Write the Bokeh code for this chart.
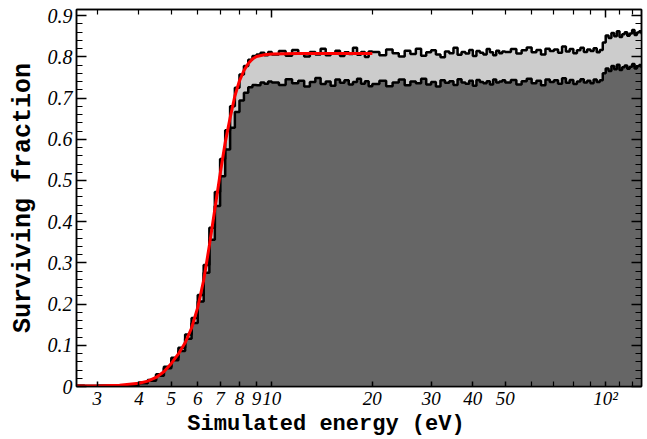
from bokeh.plotting import figure
from bokeh.models import Range1d, FixedTicker, LogAxis, LinearAxis
from bokeh.embed import file_html
from bokeh.resources import INLINE
import numpy as np

# ---------------- data ----------------
# bin edges (eV): 0.25 eV bins to 10, 0.5 eV to 20, 1 eV to 50, 2 eV to 130
edges_a = list(np.arange(2.5, 10.0, 0.25))
edges_b = list(np.arange(10.0, 20.0, 0.5))
edges_c = list(np.arange(20.0, 50.0, 1.0))
edges_d = list(np.arange(50.0, 130.01, 2.0))
edges = edges_a + edges_b + edges_c + edges_d

upper_rise = [0.002, 0.001, 0.002, 0.002, 0.003, 0.005, 0.010, 0.016, 0.030, 0.048,
              0.070, 0.094, 0.126, 0.166, 0.222, 0.295, 0.385, 0.472, 0.552, 0.622,
              0.680, 0.725, 0.757, 0.778, 0.793, 0.802, 0.806, 0.810, 0.804, 0.812]
upper_10_20 = [0.806, 0.814, 0.803, 0.817, 0.808, 0.801, 0.812, 0.806, 0.820, 0.804,
               0.809, 0.815, 0.802, 0.811, 0.807, 0.822, 0.805, 0.812, 0.800, 0.813]
upper_20_50 = [0.812, 0.804, 0.818, 0.809, 0.801, 0.815, 0.807, 0.820, 0.803, 0.811,
               0.816, 0.806, 0.799, 0.813, 0.809, 0.822, 0.805, 0.812, 0.808, 0.817,
               0.802, 0.814, 0.810, 0.806, 0.819, 0.811, 0.804, 0.815, 0.809, 0.813]
upper_50_130 = [0.812, 0.819, 0.808, 0.816, 0.823, 0.811, 0.817, 0.806, 0.820, 0.814,
                0.818, 0.810, 0.825, 0.813, 0.819, 0.809, 0.816, 0.822, 0.812, 0.818,
                0.814, 0.821, 0.811, 0.817, 0.835,
                0.852, 0.846, 0.858, 0.850, 0.862, 0.848, 0.855, 0.860, 0.851, 0.857,
                0.865, 0.853, 0.859, 0.862, 0.856]

lower_rise = [0.002, 0.001, 0.002, 0.002, 0.003, 0.004, 0.008, 0.014, 0.026, 0.044,
              0.064, 0.086, 0.116, 0.154, 0.206, 0.276, 0.356, 0.438, 0.510, 0.575,
              0.628, 0.666, 0.694, 0.713, 0.726, 0.732, 0.731, 0.738, 0.735, 0.740]
lower_10_20 = [0.738, 0.732, 0.746, 0.736, 0.742, 0.728, 0.739, 0.749, 0.734, 0.740,
               0.730, 0.745, 0.737, 0.743, 0.733, 0.739, 0.747, 0.735, 0.741, 0.729]
lower_20_50 = [0.734, 0.742, 0.729, 0.738, 0.745, 0.731, 0.740, 0.736, 0.747, 0.733,
               0.739, 0.728, 0.743, 0.737, 0.741, 0.732, 0.746, 0.738, 0.735, 0.742,
               0.730, 0.744, 0.739, 0.736, 0.741, 0.733, 0.745, 0.738, 0.740, 0.743]
lower_50_130 = [0.738, 0.744, 0.733, 0.741, 0.747, 0.736, 0.742, 0.731, 0.745, 0.739,
                0.743, 0.735, 0.748, 0.737, 0.744, 0.734, 0.740, 0.746, 0.738, 0.742,
                0.736, 0.745, 0.739, 0.743, 0.760,
                0.772, 0.766, 0.778, 0.770, 0.781, 0.768, 0.775, 0.779, 0.771, 0.776,
                0.783, 0.772, 0.777, 0.780, 0.774]

upper = upper_rise + upper_10_20 + upper_20_50 + upper_50_130
lower = lower_rise + lower_10_20 + lower_20_50 + lower_50_130

# fitted curve (red)
fit_e = [2.6, 3.0, 3.5, 4.0, 4.25, 4.5, 4.75, 5.0, 5.25, 5.5, 5.75, 6.0, 6.25, 6.5,
         6.75, 7.0, 7.25, 7.5, 7.75, 8.0, 8.25, 8.5, 8.75, 9.0, 9.5, 10.0, 12.0, 15.0, 20.0]
fit_y = [0.001, 0.0015, 0.003, 0.008, 0.013, 0.022, 0.036, 0.056, 0.079, 0.106, 0.142,
         0.192, 0.258, 0.342, 0.43, 0.515, 0.592, 0.652, 0.705, 0.742, 0.767, 0.784,
         0.795, 0.801, 0.805, 0.807, 0.808, 0.808, 0.808]

x_major = [3, 4, 5, 6, 7, 8, 9, 10, 20, 30, 40, 50, 100]
x_minor = [60, 70, 80, 90, 110, 120]
x_labels = {100: "10²"}
y_major = [0, 0.1, 0.2, 0.3, 0.4, 0.5, 0.6, 0.7, 0.8, 0.9]
y_labels = {0: "0", 0.1: "0.1", 0.2: "0.2", 0.3: "0.3", 0.4: "0.4", 0.5: "0.5",
            0.6: "0.6", 0.7: "0.7", 0.8: "0.8", 0.9: "0.9"}
x_title = "Simulated energy (eV)"
y_title = "Surviving fraction"

SERIF = "Liberation Serif"
MONO = "Liberation Mono"
NBSP = "\u00a0"


def step_path(edg, vals):
    xs = [edg[0]]
    ys = [0.0]
    for i, v in enumerate(vals):
        xs += [edg[i], edg[i + 1]]
        ys += [v, v]
    xs.append(edg[len(vals)])
    ys.append(0.0)
    return xs, ys


ux, uy = step_path(edges, upper)
lx, ly = step_path(edges, lower)

# ---------------- figure ----------------
p = figure(width=647, height=439, x_axis_type="log",
           x_range=Range1d(2.6, 128), y_range=Range1d(0, 0.915),
           output_backend="svg", toolbar_location=None,
           min_border_left=76, min_border_right=6, min_border_top=9, min_border_bottom=52)
p.xgrid.visible = False
p.ygrid.visible = False
p.outline_line_color = "black"
p.outline_line_width = 1.5
p.background_fill_color = "white"
p.border_fill_color = "white"

p.patch(ux, uy, fill_color="#cccccc", line_color=None)
p.patch(lx, ly, fill_color="#666666", line_color=None)
p.line(ux[1:-1], uy[1:-1], line_color="black", line_width=2.5)
p.line(lx[1:-1], ly[1:-1], line_color="black", line_width=2.5)
p.line(fit_e, fit_y, line_color="#ff0000", line_width=3)

minor_y = [round(i * 0.02, 2) for i in range(46)]

xa = p.xaxis[0]
xa.ticker = FixedTicker(ticks=x_major, minor_ticks=x_minor)
xa.major_label_overrides = x_labels
xa.axis_label = x_title + NBSP * 5
ya = p.yaxis[0]
ya.ticker = FixedTicker(ticks=y_major, minor_ticks=minor_y)
ya.major_label_overrides = y_labels
ya.axis_label = y_title

for ax in (xa, ya):
    ax.axis_line_color = "black"
    ax.axis_line_width = 1.5
    ax.major_tick_line_color = "black"
    ax.minor_tick_line_color = "black"
    ax.major_tick_line_width = 1.5
    ax.minor_tick_line_width = 1.2
    ax.major_tick_out = 0
    ax.minor_tick_out = 0
    ax.major_label_text_font = SERIF
    ax.major_label_text_font_style = "italic"
    ax.major_label_text_font_size = "20px"
    ax.major_label_text_color = "black"
    ax.axis_label_text_font = MONO
    ax.axis_label_text_font_style = "bold"
    ax.axis_label_text_color = "black"

xa.major_tick_in = 5
xa.minor_tick_in = 5
xa.major_label_text_font_size = "19px"
xa.major_label_standoff = 1
xa.axis_label_text_font_size = "22px"
xa.axis_label_standoff = 0
ya.major_tick_in = 10
ya.minor_tick_in = 6
ya.major_label_standoff = 4
ya.axis_label_text_font_size = "25px"
ya.axis_label_standoff = 7

top = LogAxis(ticker=FixedTicker(ticks=[10, 100], minor_ticks=x_major[:7] + [20, 30, 40, 50] + x_minor))
right = LinearAxis(ticker=FixedTicker(ticks=y_major, minor_ticks=minor_y))
for ax in (top, right):
    ax.major_label_text_font_size = "1px"
    ax.major_label_text_alpha = 0
    ax.major_label_standoff = 0
    ax.axis_line_color = "black"
    ax.axis_line_width = 1.5
    ax.major_tick_line_color = "black"
    ax.minor_tick_line_color = "black"
    ax.major_tick_line_width = 1.5
    ax.minor_tick_line_width = 1.2
    ax.major_tick_out = 0
    ax.minor_tick_out = 0
top.major_tick_in = 8
top.minor_tick_in = 5
right.major_tick_in = 10
right.minor_tick_in = 6
p.add_layout(top, "above")
p.add_layout(right, "right")

open("out.html", "w").write(file_html(p, INLINE))
